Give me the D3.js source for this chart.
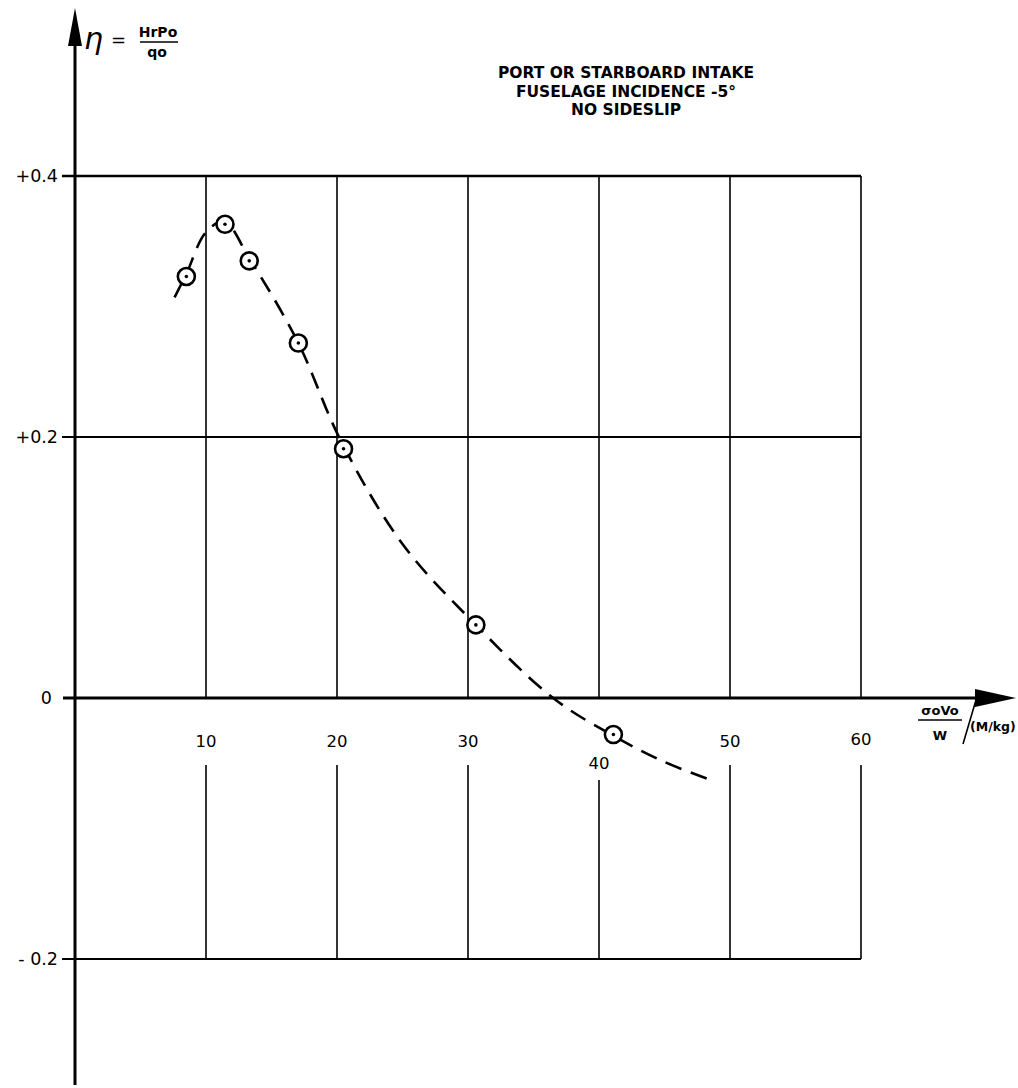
<!DOCTYPE html>
<html>
<head>
<meta charset="utf-8">
<script src="https://cdn.jsdelivr.net/npm/d3@7"></script>
<style>
  html, body { margin: 0; padding: 0; background: #fff; }
  svg { display: block; }
  text { font-family: "DejaVu Sans", "Liberation Sans", sans-serif; fill: #000; }
</style>
</head>
<body>
<svg id="chart" width="1018" height="1088"></svg>
<script>
// Measured points: intake pressure recovery vs. mass-flow parameter
const measuredX = [8.5, 11.45, 13.3, 17.05, 20.5, 30.6, 41.1];
const measuredY = [0.323, 0.363, 0.335, 0.272, 0.191, 0.056, -0.028];

// Faired (dashed) curve through the measurements
const fairX = [7.6, 8.5, 10, 11.4, 13.3, 17.0, 20.3, 25, 30.6, 36.5, 41.1, 45, 48.3];
const fairY = [0.307, 0.325, 0.357, 0.365, 0.337, 0.273, 0.197, 0.118, 0.056, 0.0, -0.029, -0.049, -0.062];

const xTicks = [10, 20, 30, 40, 50, 60];
const xTickLabels = ["10", "20", "30", "40", "50", "60"];
const yTicks = [0.4, 0.2, 0, -0.2];
const yTickLabels = ["+0.4", "+0.2", "0", "- 0.2"];

const titleLines = ["PORT OR STARBOARD INTAKE", "FUSELAGE INCIDENCE -5°", "NO SIDESLIP"];

const svg = d3.select("#chart");

const x = d3.scaleLinear().domain([0, 60]).range([75, 861]);
const y = d3.scaleLinear().domain([-0.2, 0.4]).range([959, 176]);

const g = svg.append("g");

// ---- grid: vertical lines, interrupted below the zero axis for the labels
const labelGapBottom = {10: 765, 20: 765, 30: 765, 40: 780, 50: 765, 60: 765};
xTicks.forEach(t => {
  g.append("line")
    .attr("x1", x(t)).attr("x2", x(t))
    .attr("y1", y(0.4)).attr("y2", y(0))
    .attr("stroke", "#000").attr("stroke-width", 1.6);
  g.append("line")
    .attr("x1", x(t)).attr("x2", x(t))
    .attr("y1", labelGapBottom[t]).attr("y2", y(-0.2))
    .attr("stroke", "#000").attr("stroke-width", 1.6);
});

// ---- grid: horizontal lines with left ticks
yTicks.filter(v => v !== 0).forEach(v => {
  g.append("line")
    .attr("x1", x(0) - 13).attr("x2", x(60))
    .attr("y1", y(v)).attr("y2", y(v))
    .attr("stroke", "#000").attr("stroke-width", v === 0.4 ? 2.4 : 2);
});

// ---- main axes
g.append("line")
  .attr("x1", x(0)).attr("x2", x(0))
  .attr("y1", 40).attr("y2", 1085)
  .attr("stroke", "#000").attr("stroke-width", 3);
g.append("path")
  .attr("d", `M${x(0)},8 L${x(0) - 7},46 L${x(0) + 7},46 Z`)
  .attr("fill", "#000");

g.append("line")
  .attr("x1", x(0) - 12).attr("x2", 985)
  .attr("y1", y(0)).attr("y2", y(0))
  .attr("stroke", "#000").attr("stroke-width", 3);
g.append("path")
  .attr("d", `M1016,${y(0)} L975,${y(0) - 9} L975,${y(0) + 9} Z`)
  .attr("fill", "#000");

// ---- tick labels
const xLabelY = {10: 747, 20: 747, 30: 747, 40: 769, 50: 747, 60: 745};
xTicks.forEach((t, i) => {
  g.append("text")
    .attr("x", x(t)).attr("y", xLabelY[t])
    .attr("text-anchor", "middle")
    .attr("font-size", 16.5)
    .text(xTickLabels[i]);
});
yTicks.forEach((v, i) => {
  g.append("text")
    .attr("x", v === 0 ? 52 : 58).attr("y", y(v) + 6)
    .attr("text-anchor", "end")
    .attr("font-size", 17.5)
    .text(yTickLabels[i]);
});

// ---- faired curve (dashed)
const fair = fairX.map((d, i) => [d, fairY[i]]);
g.append("path")
  .datum(fair)
  .attr("d", d3.line().x(d => x(d[0])).y(d => y(d[1])).curve(d3.curveCatmullRom.alpha(0.5)))
  .attr("fill", "none")
  .attr("stroke", "#000")
  .attr("stroke-width", 2.6)
  .attr("stroke-dasharray", "17,10");

// ---- measured points: ringed dots
const pts = measuredX.map((d, i) => [d, measuredY[i]]);
const pg = g.append("g").selectAll("g").data(pts).join("g")
  .attr("transform", d => `translate(${x(d[0])},${y(d[1])})`);
pg.append("circle").attr("r", 8.5).attr("fill", "#fff").attr("stroke", "#000").attr("stroke-width", 2.6);
pg.append("circle").attr("r", 1.8).attr("fill", "#000");

// ---- title block
titleLines.forEach((t, i) => {
  g.append("text")
    .attr("x", 626).attr("y", 78 + i * 18.5)
    .attr("text-anchor", "middle")
    .attr("font-size", 15.5)
    .attr("font-weight", "bold")
    .text(t);
});

// ---- y-axis quantity: eta = HrPo / qo
g.append("text")
  .attr("x", 84).attr("y", 49)
  .attr("font-family", "DejaVu Serif")
  .attr("font-style", "italic")
  .attr("font-size", 30)
  .text("η");
g.append("text")
  .attr("x", 111).attr("y", 46)
  .attr("font-size", 18)
  .text("=");
g.append("text")
  .attr("x", 158).attr("y", 37)
  .attr("text-anchor", "middle")
  .attr("font-size", 14).attr("font-weight", "bold")
  .text("HrPo");
g.append("line")
  .attr("x1", 140).attr("x2", 178).attr("y1", 42).attr("y2", 42)
  .attr("stroke", "#000").attr("stroke-width", 1.3);
g.append("text")
  .attr("x", 157).attr("y", 57)
  .attr("text-anchor", "middle")
  .attr("font-size", 14).attr("font-weight", "bold")
  .text("qo");

// ---- x-axis quantity: σoVo / W  /(M/kg)
g.append("text")
  .attr("x", 940).attr("y", 715)
  .attr("text-anchor", "middle")
  .attr("font-size", 13).attr("font-weight", "bold")
  .text("σoVo");
g.append("line")
  .attr("x1", 918).attr("x2", 962).attr("y1", 720).attr("y2", 720)
  .attr("stroke", "#000").attr("stroke-width", 1.3);
g.append("text")
  .attr("x", 940).attr("y", 740)
  .attr("text-anchor", "middle")
  .attr("font-size", 13).attr("font-weight", "bold")
  .text("W");
g.append("line")
  .attr("x1", 963).attr("x2", 976).attr("y1", 744).attr("y2", 700)
  .attr("stroke", "#000").attr("stroke-width", 1.6);
g.append("text")
  .attr("x", 970).attr("y", 731)
  .attr("font-size", 12.5).attr("font-weight", "bold")
  .text("(M/kg)");
</script>
</body>
</html>
